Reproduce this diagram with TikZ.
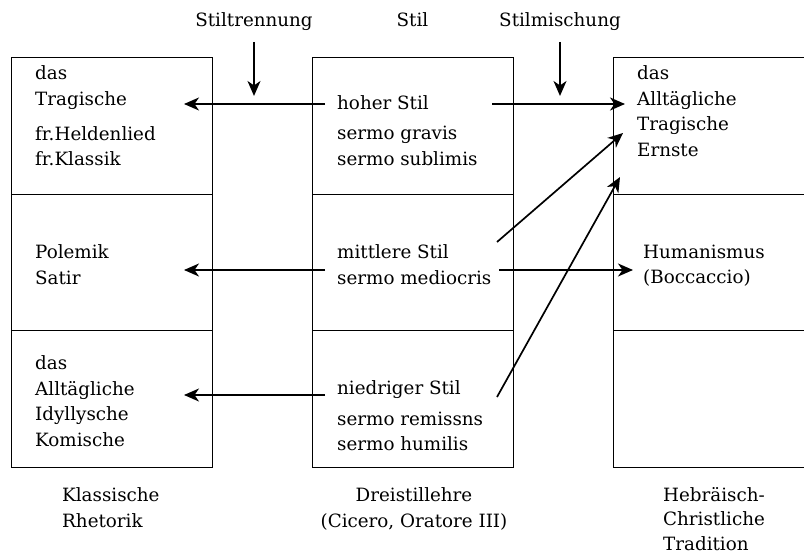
\documentclass[tikz,border=0pt]{standalone}
\usepackage{fontspec}
\setmainfont{DejaVu Serif}
\usepackage{tikz}
\usetikzlibrary{arrows.meta,positioning}

\tikzset{
  feld/.style={draw, line width=0.9pt, minimum width=201pt, minimum height=136.67pt, inner sep=0pt, anchor=north west},
  txt/.style={font=\fontsize{18.3}{25.5}\selectfont, align=left, anchor=north west, inner sep=0pt},
  unter/.style={font=\fontsize{18.3}{25.5}\selectfont, align=center, anchor=north, inner sep=0pt},
  kopf/.style={font=\fontsize{18.3}{25.5}\selectfont, anchor=base, inner sep=0pt},
  pfeil/.style={-{Stealth[length=15pt,width=13pt,inset=4.5pt]}, line width=1.7pt},
}

\begin{document}
\begin{tikzpicture}[x=1pt, y=-1pt]
        \clip (0,0) rectangle (804,554);

        % Felder: k = Klassische Rhetorik, d = Dreistillehre, h = Tradition
        \foreach \sp/\x in {k/11,d/312,h/613}
          \foreach \z in {1,2,3}
            \node[feld] (\sp\z) at (\x,{57+(\z-1)*136.67}) {};

        % Kopfzeile
        \node[kopf] (trennung) at (254,26) {Stiltrennung};
        \node[kopf] (stil) at (412.5,26) {Stil};
        \node[kopf] (mischung) at (560,26) {Stilmischung};

        % Klassische Rhetorik
        \node[txt] (kOben) at (35,65.6) {das\\Tragische\\[9.5pt]fr.Heldenlied\\fr.Klassik};
        \node[txt] (kMitte) at (35,244.6) {Polemik\\Satir};
        \node[txt] (kUnten) at (35,355.6) {das\\Alltägliche\\Idyllysche\\Komische};

        % Dreistillehre
        \node[txt] (hoher) at (337,95.6) {hoher Stil\\[4.5pt]sermo gravis\\sermo sublimis};
        \node[txt] (mittel) at (337,244.6) {mittlere Stil\\sermo mediocris};
        \node[txt] (niedrig) at (337,380.6) {niedriger Stil\\[5pt]sermo remissns\\sermo humilis};

        % Hebraeisch-Christliche Tradition
        \node[txt] (hOben) at (637,65.6) {das\\Alltägliche\\Tragische\\Ernste};
        \node[txt] (hMitte) at (643,244.6) {Humanismus\\(Boccaccio)};

        % Unterschriften
        \node[txt] (klass) at (62,487.6) {Klassische\\Rhetorik};
        \node[unter] (dreistil) at (414,487.6) {Dreistillehre\\(Cicero, Oratore III)};
        \node[txt, font=\fontsize{18.3}{24.5}\selectfont] (hebr) at (663,487) {Hebräisch-\\Christliche\\Tradition};

        % Pfeilenden
        \coordinate (hoL) at (325,104);
        \coordinate (hoR) at (492,104);
        \coordinate (miL) at (325,270);
        \coordinate (miR) at (499,270);
        \coordinate (niL) at (325,395);
        \coordinate (miD) at (497,242);
        \coordinate (niD) at (497,397);
        \coordinate (kSp1) at (184,104);
        \coordinate (kSp2) at (184,270);
        \coordinate (kSp3) at (184,395);
        \coordinate (hSp1) at (625,104);
        \coordinate (hSp2) at (633,270);
        \coordinate (hSpA) at (623,133);
        \coordinate (hSpB) at (620,177);

        \draw[pfeil] ([yshift=-11.7pt]trennung.south) -- ++(0,54);
        \draw[pfeil] ([yshift=-11.7pt]mischung.south) -- ++(0,54);

        \draw[pfeil] (hoL) -- (kSp1);
        \draw[pfeil] (hoR) -- (hSp1);
        \draw[pfeil] (miL) -- (kSp2);
        \draw[pfeil] (miR) -- (hSp2);
        \draw[pfeil] (niL) -- (kSp3);
        \draw[pfeil] (miD) -- (hSpA); % Stilmischung
        \draw[pfeil] (niD) -- (hSpB);
\end{tikzpicture}
\end{document}
